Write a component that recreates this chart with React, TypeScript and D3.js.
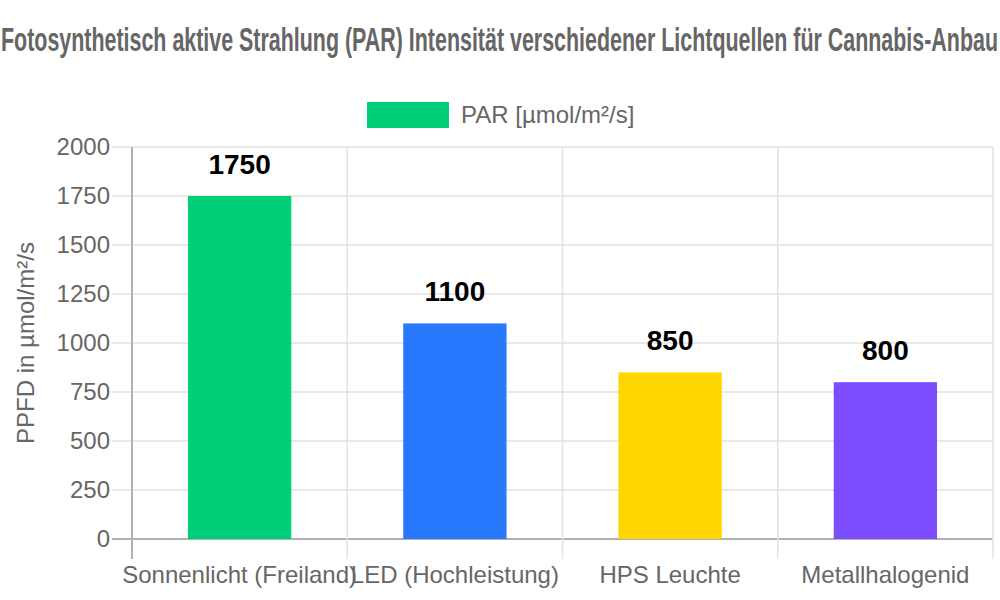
import React from "react";
import * as d3 from "d3";

const categories = ["Sonnenlicht (Freiland)", "LED (Hochleistung)", "HPS Leuchte", "Metallhalogenid"];
const values = [1750, 1100, 850, 800];
const barColors = ["#00cf7a", "#2979ff", "#ffd600", "#7c4dff"];
const yTicks = [0, 250, 500, 750, 1000, 1250, 1500, 1750, 2000];
const title = "Fotosynthetisch aktive Strahlung (PAR) Intensität verschiedener Lichtquellen für Cannabis-Anbau";
const legendLabel = "PAR [µmol/m²/s]";
const yTitle = "PPFD in µmol/m²/s";

export default function App() {
  const W = 1000, H = 600;
  const left = 132, right = 993, top = 147, bottom = 539;
  const x = d3.scaleBand().domain(categories).range([left, right]).paddingInner(0).paddingOuter(0);
  const y = d3.scaleLinear().domain([0, 2000]).range([bottom, top]);
  const bw = x.bandwidth() * 0.8 * 0.6;
  const font = "'Liberation Sans', Arial, sans-serif";
  const bounds = categories.map((c) => x(c)!).concat([right]);
  return (
    <svg width={W} height={H} style={{ position: "absolute", left: 0, top: 0 }} fontFamily={font}>
      <rect width={W} height={H} fill="#fff" />
      <text x={1} y={51} fontSize={33} fontWeight="bold" fill="#666" textLength={997} lengthAdjust="spacingAndGlyphs">
        {title}
      </text>
      {/* legend */}
      <rect x={367} y={102} width={82} height={26} fill={barColors[0]} />
      <text x={461} y={123} fontSize={24} fill="#666">{legendLabel}</text>
      {/* horizontal grid */}
      {yTicks.map((t) => (
        <g key={t}>
          <line x1={left - 20} x2={right} y1={y(t)} y2={y(t)} stroke={t === 0 ? "#b0b0b0" : "#e2e2e2"} strokeWidth={t === 0 ? 2 : 1.5} />
          <text x={110} y={y(t)} dy="0.35em" textAnchor="end" fontSize={24} fill="#666">{t}</text>
        </g>
      ))}
      {/* vertical grid */}
      {bounds.map((b, i) => (
        <line key={i} x1={b} x2={b} y1={top} y2={bottom + 20} stroke={i === 0 ? "#b0b0b0" : "#e2e2e2"} strokeWidth={i === 0 ? 2 : 1.5} />
      ))}
      <text transform={`translate(26,${(top + bottom) / 2}) rotate(-90)`} textAnchor="middle" dy="0.35em" fontSize={24} fill="#666">{yTitle}</text>
      {categories.map((c, i) => {
        const cx = x(c)! + x.bandwidth() / 2;
        return (
          <g key={c}>
            <rect x={cx - bw / 2} y={y(values[i])} width={bw} height={bottom - y(values[i])} fill={barColors[i]} />
            <text x={cx} y={y(values[i]) - 22} textAnchor="middle" fontSize={28} fontWeight="bold" fill="#000">{values[i]}</text>
            <text x={cx} y={583} textAnchor="middle" fontSize={24} fill="#666">{c}</text>
          </g>
        );
      })}
    </svg>
  );
}
